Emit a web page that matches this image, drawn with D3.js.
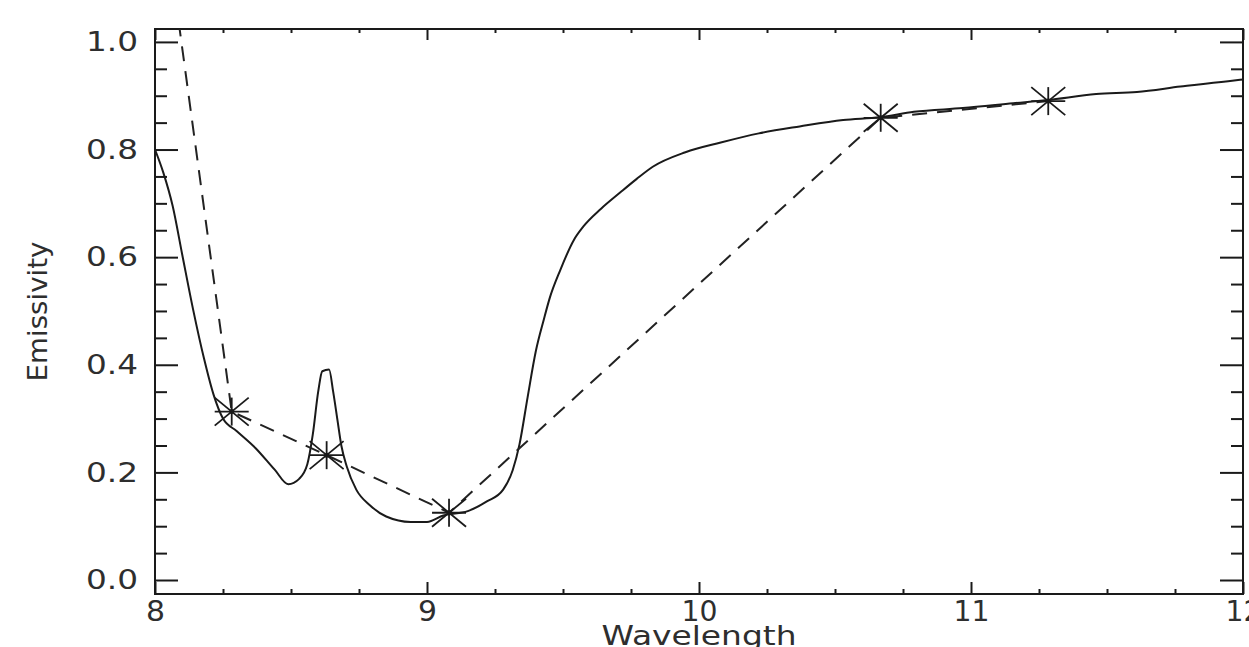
<!DOCTYPE html>
<html>
<head>
<meta charset="utf-8">
<script src="https://cdn.jsdelivr.net/npm/d3@7"></script>
<style>
  html, body { margin: 0; padding: 0; background: #fff; }
  svg { display: block; }
  text { font-family: "DejaVu Sans", sans-serif; fill: #2e2e2e; }
</style>
</head>
<body>
<svg id="chart" width="1249" height="647"></svg>
<script>
// ---- data ----
const spectrumX = [8.00, 8.03, 8.065, 8.10, 8.14, 8.18, 8.215, 8.25, 8.30, 8.37, 8.44, 8.49, 8.53, 8.56, 8.58, 8.60, 8.615, 8.64, 8.655, 8.67, 8.685, 8.705, 8.74, 8.79, 8.85, 8.94, 9.00, 9.06, 9.15, 9.22, 9.28, 9.315, 9.34, 9.37, 9.40, 9.43, 9.45, 9.49, 9.54, 9.575, 9.64, 9.71, 9.77, 9.83, 9.95, 10.08, 10.22, 10.37, 10.53, 10.665, 10.79, 10.97, 11.155, 11.28, 11.46, 11.61, 11.77, 11.96, 12.0];
const spectrumY = [0.800, 0.758, 0.695, 0.605, 0.503, 0.412, 0.345, 0.300, 0.277, 0.245, 0.205, 0.178, 0.188, 0.215, 0.270, 0.350, 0.388, 0.391, 0.350, 0.300, 0.250, 0.211, 0.168, 0.139, 0.118, 0.108, 0.108, 0.120, 0.128, 0.146, 0.168, 0.204, 0.252, 0.340, 0.425, 0.485, 0.522, 0.576, 0.632, 0.657, 0.690, 0.720, 0.745, 0.768, 0.795, 0.813, 0.830, 0.843, 0.855, 0.860, 0.870, 0.877, 0.886, 0.892, 0.903, 0.907, 0.917, 0.928, 0.930];

const bandX = [8.282, 8.631, 9.081, 10.668, 11.284];
const bandY = [0.313, 0.232, 0.125, 0.859, 0.890];

const dashX = [8.0, 8.282, 8.631, 9.081, 10.668, 11.284];
const dashY = [1.36, 0.313, 0.232, 0.125, 0.859, 0.890];

const xMajorTicks = [8, 9, 10, 11, 12];
const xMinorTicks = [8.25, 8.5, 8.75, 9.25, 9.5, 9.75, 10.25, 10.5, 10.75, 11.25, 11.5, 11.75];
const yMajorTicks = [0.0, 0.2, 0.4, 0.6, 0.8, 1.0];
const yMinorTicks = [0.05, 0.1, 0.15, 0.25, 0.3, 0.35, 0.45, 0.5, 0.55, 0.65, 0.7, 0.75, 0.85, 0.9, 0.95];

const xTitle = "Wavelength";
const yTitle = "Emissivity";

// ---- layout ----
const svg = d3.select("#chart");
const L = 155, R = 1243, T = 29, B = 594;
const x = d3.scaleLinear().domain([8, 12]).range([L, R]);
const y = d3.scaleLinear().domain([-0.026, 1.024]).range([B, T]);
const ink = "#1a1a1a";

svg.append("clipPath").attr("id", "plotClip")
  .append("rect").attr("x", L).attr("y", T).attr("width", R - L).attr("height", B - T);

function styleAxis(g) {
  g.select(".domain").remove();
  g.selectAll(".tick line").attr("stroke", ink).attr("stroke-width", 2);
}
// left
svg.append("g").attr("transform", `translate(${L},0)`)
  .call(d3.axisLeft(y).tickValues(yMinorTicks).tickSize(-12).tickSizeOuter(0).tickFormat(""))
  .call(styleAxis);
const leftMaj = svg.append("g").attr("transform", `translate(${L},0)`)
  .call(d3.axisLeft(y).tickValues(yMajorTicks).tickSize(-23).tickSizeOuter(0).tickPadding(17).tickFormat(d3.format(".1f")))
  .call(styleAxis);
leftMaj.selectAll("text").attr("font-size", 27).attr("font-family", "DejaVu Sans, sans-serif")
  .attr("fill", "#2e2e2e").attr("textLength", 52).attr("lengthAdjust", "spacingAndGlyphs");
// right
svg.append("g").attr("transform", `translate(${R},0)`)
  .call(d3.axisRight(y).tickValues(yMinorTicks).tickSize(-12).tickSizeOuter(0).tickFormat(""))
  .call(styleAxis);
svg.append("g").attr("transform", `translate(${R},0)`)
  .call(d3.axisRight(y).tickValues(yMajorTicks).tickSize(-23).tickSizeOuter(0).tickFormat(""))
  .call(styleAxis);
// bottom
svg.append("g").attr("transform", `translate(0,${B})`)
  .call(d3.axisBottom(x).tickValues(xMinorTicks).tickSize(-5).tickSizeOuter(0).tickFormat(""))
  .call(styleAxis);
const botMaj = svg.append("g").attr("transform", `translate(0,${B})`)
  .call(d3.axisBottom(x).tickValues(xMajorTicks).tickSize(-12).tickSizeOuter(0).tickPadding(7).tickFormat(d3.format("d")))
  .call(styleAxis);
botMaj.selectAll("text").attr("font-size", 28).attr("font-family", "DejaVu Sans, sans-serif")
  .attr("fill", "#2e2e2e")
  .attr("textLength", d => String(d).length > 1 ? 36 : 19)
  .attr("lengthAdjust", "spacingAndGlyphs");
// top
svg.append("g").attr("transform", `translate(0,${T})`)
  .call(d3.axisTop(x).tickValues(xMinorTicks).tickSize(-4).tickSizeOuter(0).tickFormat(""))
  .call(styleAxis);
svg.append("g").attr("transform", `translate(0,${T})`)
  .call(d3.axisTop(x).tickValues(xMajorTicks).tickSize(-11).tickSizeOuter(0).tickFormat(""))
  .call(styleAxis);

// frame
svg.append("rect").attr("x", L).attr("y", T).attr("width", R - L).attr("height", B - T)
  .attr("fill", "none").attr("stroke", ink).attr("stroke-width", 2);

// ---- series ----
const plot = svg.append("g").attr("clip-path", "url(#plotClip)");

const spectrum = spectrumX.map((v, i) => [v, spectrumY[i]]);
const lineGen = d3.line().x(d => x(d[0])).y(d => y(d[1])).curve(d3.curveMonotoneX);
plot.append("path").datum(spectrum)
  .attr("d", lineGen).attr("fill", "none").attr("stroke", ink).attr("stroke-width", 2);

const dashed = dashX.map((v, i) => [v, dashY[i]]);
plot.append("path").datum(dashed)
  .attr("d", d3.line().x(d => x(d[0])).y(d => y(d[1])))
  .attr("fill", "none").attr("stroke", "#222").attr("stroke-width", 2)
  .attr("stroke-dasharray", "15,10");

// asterisk markers
const bands = bandX.map((v, i) => [v, bandY[i]]);
const mk = plot.selectAll("g.mk").data(bands).enter().append("g")
  .attr("class", "mk")
  .attr("transform", d => `translate(${x(d[0])},${y(d[1])})`);
const arms = [[-17, 0, 17, 0], [0, -14, 0, 14], [-17, -14, 17, 14], [-17, 14, 17, -14]];
arms.forEach(a => {
  mk.append("line").attr("x1", a[0]).attr("y1", a[1]).attr("x2", a[2]).attr("y2", a[3])
    .attr("stroke", ink).attr("stroke-width", 1.8);
});
mk.append("circle").attr("r", 2.5).attr("fill", ink);

// ---- titles ----
svg.append("text").attr("x", x(10)).attr("y", 645).attr("text-anchor", "middle")
  .attr("font-size", 26).attr("textLength", 195).attr("lengthAdjust", "spacingAndGlyphs")
  .text(xTitle);
svg.append("text").attr("transform", `translate(47,${(T + B) / 2}) rotate(-90)`)
  .attr("text-anchor", "middle").attr("font-size", 27).attr("textLength", 140)
  .attr("lengthAdjust", "spacingAndGlyphs").text(yTitle);
</script>
</body>
</html>
